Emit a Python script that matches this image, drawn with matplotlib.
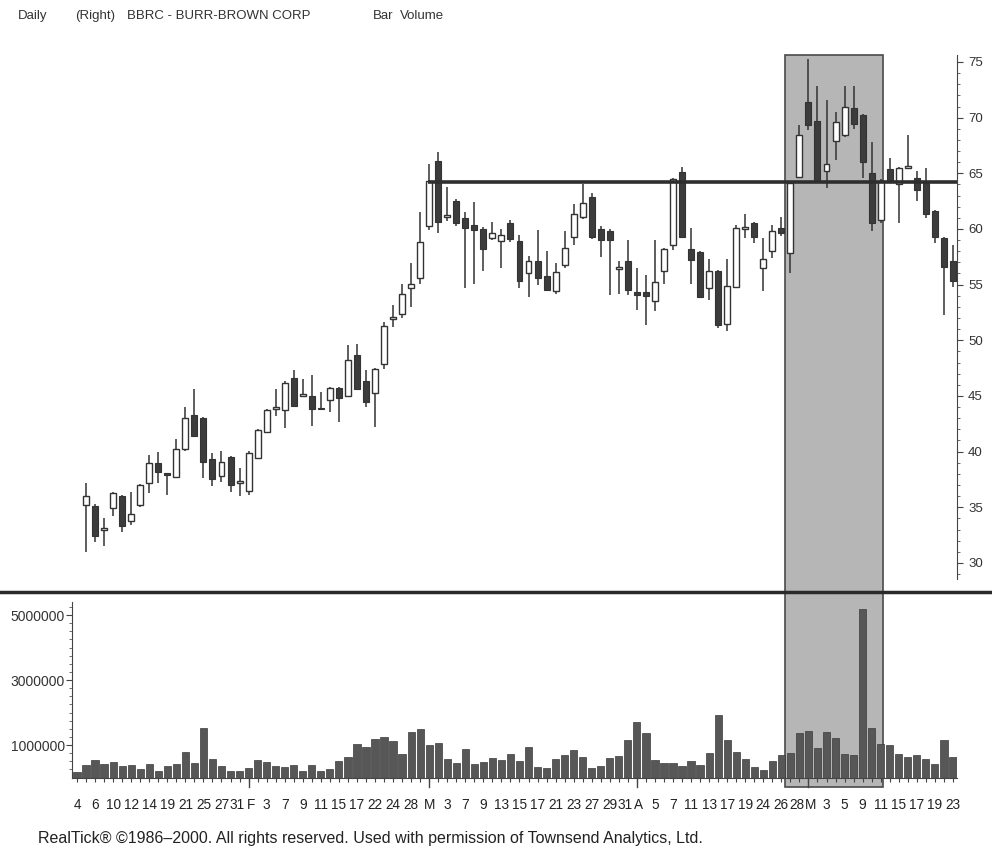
# BBRC daily candlestick chart with volume (RealTick style scan)
import numpy as np
import matplotlib
import matplotlib.pyplot as plt
from matplotlib.patches import Rectangle
from matplotlib.lines import Line2D
import matplotlib.transforms as mtransforms

plt.rcParams['font.family'] = ['Liberation Sans', 'DejaVu Sans']

# ---- data (Jan 4 - May 23, 2000, one entry per trading day) ----
nan = np.nan
opens = [nan, 35.2, 35.1, 33.0, 34.9, 36.0, 33.8, 35.2, 37.2, 39.0, 38.0,
         37.7, 40.2, 43.3, 43.0, 39.3, 37.8, 39.5, 37.2, 36.5, 39.4,
         41.8, 43.8, 43.7, 46.6, 45.0, 45.0, 43.9, 44.6, 45.7, 45.0,
         48.7, 46.3, 45.3, 47.9, 51.9, 52.4, 54.7, 55.6, 60.3, 66.1,
         61.1, 62.5, 61.0, 60.4, 60.0, 59.2, 58.9, 60.5, 58.9, 56.0,
         57.1, 55.8, 54.4, 56.8, 59.3, 61.1, 62.9, 60.0, 59.8, 56.4,
         57.1, 54.3, 54.3, 53.5, 56.2, 58.6, 65.1, 58.2, 57.9, 54.7,
         56.2, 51.5, 54.8, 60.0, 60.5, 56.5, 58.0, 60.1, 57.8, 64.7,
         71.4, 69.7, 65.2, 67.9, 68.4, 70.9, 70.2, 65.0, 60.8, 65.4,
         64.0, 65.5, 64.6, 64.1, 61.6, 59.2, 57.1]
highs = [nan, 37.2, 35.3, 34.0, 36.4, 36.1, 36.4, 37.1, 39.7, 40.0, 38.0,
         41.1, 44.0, 45.6, 43.1, 39.9, 40.1, 39.6, 38.5, 40.1, 42.0,
         43.8, 45.6, 46.3, 47.3, 46.5, 46.9, 45.4, 45.8, 45.8, 49.6,
         49.7, 47.3, 47.5, 51.6, 53.2, 55.1, 56.9, 61.5, 65.8, 66.9,
         63.8, 62.7, 61.5, 62.4, 60.2, 60.6, 60.0, 60.8, 59.5, 57.6,
         59.9, 58.0, 56.9, 59.8, 62.2, 64.0, 63.2, 60.3, 60.0, 57.1,
         59.0, 56.5, 55.9, 59.0, 58.3, 64.6, 65.6, 60.1, 58.0, 57.3,
         56.3, 57.3, 60.4, 61.3, 60.6, 59.2, 60.4, 61.1, 64.3, 69.3,
         75.3, 72.8, 71.6, 70.5, 72.8, 72.8, 70.3, 67.8, 64.5, 66.4,
         65.6, 68.4, 65.2, 65.5, 61.7, 59.3, 58.6]
lows = [nan, 31.0, 31.9, 31.5, 34.2, 32.8, 33.4, 35.0, 36.3, 37.2, 36.1,
        37.6, 40.1, 41.3, 37.6, 36.9, 37.3, 36.4, 36.0, 36.1, 39.3,
        41.7, 43.2, 42.1, 44.0, 44.9, 42.3, 43.7, 43.6, 42.7, 44.9,
        45.5, 44.0, 42.2, 47.4, 51.2, 52.0, 53.0, 55.1, 59.9, 59.6,
        60.7, 60.3, 54.7, 55.1, 56.2, 59.0, 56.5, 58.8, 54.7, 53.9,
        55.0, 54.4, 54.2, 56.5, 58.6, 60.9, 59.1, 57.5, 54.1, 54.2,
        54.1, 52.7, 51.4, 52.6, 55.1, 58.1, 59.2, 55.1, 53.8, 53.6,
        51.1, 50.8, 54.7, 59.2, 58.7, 54.4, 57.4, 59.4, 56.0, 64.6,
        68.9, 64.2, 63.7, 66.2, 68.3, 69.0, 64.6, 59.8, 60.5, 64.2,
        60.5, 65.4, 62.5, 61.0, 58.7, 52.3, 54.8]
closes = [nan, 36.0, 32.4, 33.1, 36.3, 33.3, 34.4, 37.0, 39.0, 38.2, 37.9,
          40.2, 43.0, 41.4, 39.1, 37.5, 39.1, 37.0, 37.4, 39.9, 41.9,
          43.7, 44.0, 46.2, 44.1, 45.1, 43.8, 43.8, 45.7, 44.8, 48.2,
          45.6, 44.5, 47.4, 51.3, 52.1, 54.2, 55.1, 58.8, 64.3, 60.6,
          61.2, 60.5, 60.1, 59.9, 58.2, 59.6, 59.5, 59.1, 55.3, 57.1,
          55.6, 54.5, 56.1, 58.3, 61.3, 62.3, 59.3, 59.0, 59.0, 56.6,
          54.5, 54.1, 54.0, 55.2, 58.2, 64.5, 59.3, 57.2, 53.9, 56.2,
          51.4, 54.9, 60.1, 60.2, 59.3, 57.3, 59.8, 59.6, 64.1, 68.4,
          69.3, 64.3, 65.8, 69.6, 71.0, 69.4, 66.0, 60.5, 64.3, 64.4,
          65.5, 65.6, 63.5, 61.3, 59.3, 56.6, 55.3]
volume = [0.17, 0.38, 0.55, 0.41, 0.48, 0.35, 0.38, 0.25, 0.43, 0.21,
          0.35, 0.41, 0.79, 0.45, 1.51, 0.58, 0.35, 0.21, 0.19, 0.28,
          0.53, 0.48, 0.35, 0.31, 0.38, 0.19, 0.37, 0.19, 0.26, 0.51,
          0.64, 1.02, 0.94, 1.20, 1.25, 1.12, 0.71, 1.41, 1.48, 0.99,
          1.07, 0.56, 0.45, 0.87, 0.42, 0.48, 0.61, 0.53, 0.72, 0.50,
          0.94, 0.31, 0.28, 0.56, 0.69, 0.86, 0.64, 0.28, 0.36, 0.61,
          0.66, 1.14, 1.71, 1.38, 0.55, 0.45, 0.46, 0.36, 0.50, 0.40,
          0.76, 1.93, 1.15, 0.77, 0.56, 0.33, 0.23, 0.51, 0.69, 0.76,
          1.37, 1.43, 0.92, 1.41, 1.21, 0.71, 0.69, 5.20, 1.53, 1.03,
          0.99, 0.72, 0.62, 0.69, 0.58, 0.41, 1.15, 0.62]  # millions

tick_labels = ['4', '6', '10', '12', '14', '19', '21', '25', '27', '31',
               'F', '3', '7', '9', '11', '15', '17', '22', '24', '28',
               'M', '3', '7', '9', '13', '15', '17', '21', '23', '27',
               '29', '31', 'A', '5', '7', '11', '13', '17', '19', '24',
               '26', '28', 'M', '3', '5', '9', '11', '15', '17', '19', '23']
tick_pos = [0, 2, 4, 6, 8, 10, 12, 14, 16, 18,
            19, 21, 23, 25, 27, 29, 31, 33, 35, 37,
            39, 41, 43, 45, 47, 49, 51, 53, 55, 57,
            59, 61, 62, 64, 66, 68, 70, 72, 74, 76,
            78, 80, 81, 83, 85, 87, 89, 91, 93, 95, 97]
month_starts = [19, 39, 62, 81]

resistance = 64.2          # horizontal line level
resistance_start = 38.9    # bar where the line starts
shade_start, shade_end = 78.4, 89.3   # highlighted bars

price_ticks = [30, 35, 40, 45, 50, 55, 60, 65, 70, 75]
vol_ticks = [1000000, 3000000, 5000000]

o = np.array(opens); h = np.array(highs); l = np.array(lows); c = np.array(closes)
v = np.array(volume) * 1e6
x = np.arange(len(v))

ink = '#333333'
dark = '#3c3c3c'

fig = plt.figure(figsize=(9.92, 8.56), dpi=100)

ax = fig.add_axes([0.0726, 0.3201, 0.8921, 0.6157])
axv = fig.add_axes([0.0726, 0.0917, 0.8921, 0.2050])
for a in (ax, axv):
    a.patch.set_visible(False)
    a.set_xlim(-0.554, 97.45)
    for s in a.spines.values():
        s.set_visible(False)

# ---- shaded window spanning both panels ----
trans = mtransforms.blended_transform_factory(ax.transData, fig.transFigure)
fig.add_artist(Rectangle((shade_start, 0.0806), shade_end - shade_start, 0.9357 - 0.0806,
                         transform=trans, facecolor='#b6b6b6', edgecolor='#4a4a4a',
                         linewidth=1.2, zorder=-1))

# ---- candles ----
ok = ~np.isnan(o)
ax.vlines(x[ok], l[ok], h[ok], color=ink, linewidth=1.1, zorder=2)
up = ok & (c >= o)
dn = ok & (c < o)
body_w = 0.66
ax.bar(x[up], np.maximum(c[up] - o[up], 0.15), bottom=o[up], width=body_w,
       facecolor='white', edgecolor=ink, linewidth=1.0, zorder=3)
ax.bar(x[dn], np.maximum(o[dn] - c[dn], 0.15), bottom=c[dn], width=body_w,
       facecolor=dark, edgecolor=ink, linewidth=0.8, zorder=3)

ax.hlines(resistance, resistance_start, 97.4, color='#2e2e2e', linewidth=2.6, zorder=4)

ax.set_ylim(28.29, 75.63)
ax.set_xticks([])
ax.yaxis.tick_right()
ax.spines['right'].set_visible(True)
ax.spines['right'].set_color('#444444')
ax.spines['right'].set_bounds(28.6, 75.6)
ax.set_yticks(price_ticks)
ax.set_yticks(np.arange(29, 76, 1), minor=True)
ax.tick_params(axis='y', which='major', direction='out', length=4, width=0.8,
               colors='#444444', labelsize=9.5, pad=4, labelcolor='#333333')
ax.tick_params(axis='y', which='minor', direction='out', length=2, width=0.6, colors='#555555')

# ---- volume ----
axv.bar(x, v, width=0.8, facecolor='#575757', edgecolor='#3a3a3a', linewidth=0.5)
axv.set_ylim(0, 5.4e6)
axv.spines['left'].set_visible(True)
axv.spines['bottom'].set_visible(True)
axv.spines['left'].set_color('#444444')
axv.spines['bottom'].set_color('#444444')
axv.set_yticks(vol_ticks)
axv.set_yticklabels([str(t) for t in vol_ticks])
axv.set_yticks(np.arange(250000, 5400000, 250000), minor=True)
axv.tick_params(axis='y', which='major', direction='out', length=4, width=0.8,
                colors='#444444', labelsize=10, labelcolor='#333333', pad=1)
axv.tick_params(axis='y', which='minor', direction='out', length=2, width=0.6, colors='#555555')
axv.set_xticks(tick_pos)
axv.set_xticklabels([])
axv.set_xticks(x, minor=True)
axv.tick_params(axis='x', which='both', direction='out', length=3, width=0.8, colors='#444444')
for m in month_starts:
    axv.plot([m, m], [0, -0.055], transform=axv.get_xaxis_transform(),
             color='#444444', linewidth=1.0, clip_on=False)

# date labels: nudge apart the pairs that sit one bar apart (31F, 31A, 28M)
for i, (p, lab) in enumerate(zip(tick_pos, tick_labels)):
    dx = 0
    if i + 1 < len(tick_pos) and tick_pos[i + 1] - p == 1:
        dx = -2.5
    elif i > 0 and p - tick_pos[i - 1] == 1:
        dx = 2
    axv.annotate(lab, xy=(p, 0), xycoords=('data', 'axes fraction'),
                 xytext=(dx, -20), textcoords='offset pixels',
                 ha='center', va='top', fontsize=9.8, color='#222222')

# separator between panels
fig.add_artist(Line2D([0, 1], [0.3084, 0.3084], transform=fig.transFigure,
                      color='#2a2a2a', linewidth=2.5))

# ---- texts ----
hdr = dict(fontsize=9.5, color='#333333', va='center')
fig.text(18 / 992, 1 - 16 / 856, 'Daily', **hdr)
fig.text(75 / 992, 1 - 16 / 856, '(Right)', **hdr)
fig.text(127 / 992, 1 - 16 / 856, 'BBRC - BURR-BROWN CORP', **hdr)
fig.text(373 / 992, 1 - 16 / 856, 'Bar', **hdr)
fig.text(400 / 992, 1 - 16 / 856, 'Volume', **hdr)

fig.text(38 / 992, 1 - 838 / 856,
         'RealTick\u00ae \u00a91986\u20132000. All rights reserved. Used with permission of Townsend Analytics, Ltd.',
         fontsize=11.5, color='#222222', va='center')

fig.savefig('out.png', dpi=100)
